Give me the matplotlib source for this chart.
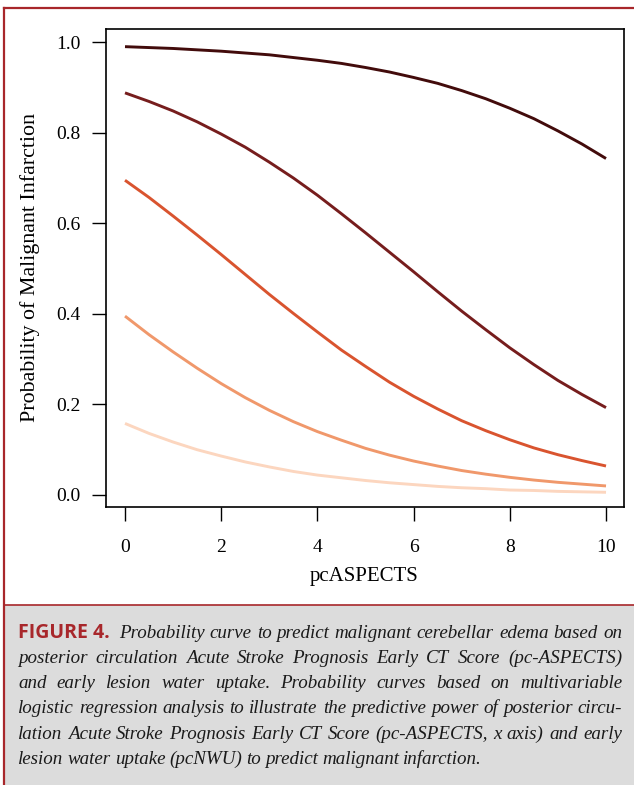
import matplotlib.pyplot as plt
from matplotlib.patches import Rectangle
from matplotlib.lines import Line2D

# pcASPECTS values along the x axis
pc_aspects = [0, 0.5, 1, 1.5, 2, 2.5, 3, 3.5, 4, 4.5, 5,
              5.5, 6, 6.5, 7, 7.5, 8, 8.5, 9, 9.5, 10]

# probability curves (darkest first)
curve_1 = [0.990, 0.988, 0.986, 0.983, 0.980, 0.976, 0.972, 0.966, 0.960, 0.953, 0.944,
           0.934, 0.922, 0.909, 0.893, 0.875, 0.854, 0.831, 0.804, 0.775, 0.743]
curve_2 = [0.888, 0.869, 0.848, 0.824, 0.797, 0.768, 0.735, 0.700, 0.662, 0.621, 0.579,
           0.536, 0.493, 0.449, 0.406, 0.365, 0.325, 0.288, 0.253, 0.222, 0.193]
curve_3 = [0.695, 0.657, 0.616, 0.574, 0.531, 0.487, 0.443, 0.401, 0.360, 0.320, 0.284,
           0.249, 0.218, 0.190, 0.164, 0.142, 0.122, 0.104, 0.089, 0.076, 0.064]
curve_4 = [0.395, 0.354, 0.316, 0.280, 0.246, 0.215, 0.187, 0.162, 0.140, 0.121, 0.103,
           0.088, 0.075, 0.064, 0.054, 0.046, 0.039, 0.033, 0.028, 0.024, 0.020]
curve_5 = [0.158, 0.136, 0.117, 0.100, 0.086, 0.073, 0.062, 0.052, 0.044, 0.038, 0.032,
           0.027, 0.023, 0.019, 0.016, 0.014, 0.011, 0.010, 0.008, 0.007, 0.006]

curves = [curve_1, curve_2, curve_3, curve_4, curve_5]
colors = ['#420b0b', '#761d1d', '#d9542f', '#f0986b', '#fcd6bf']

x_ticks = [0, 2, 4, 6, 8, 10]
y_ticks = [0.0, 0.2, 0.4, 0.6, 0.8, 1.0]
y_tick_labels = ['0.0', '0.2', '0.4', '0.6', '0.8', '1.0']

caption_head = 'FIGURE 4.'
caption_lines = [
    'Probability curve to predict malignant cerebellar edema based on',
    'posterior circulation Acute Stroke Prognosis Early CT Score (pc-ASPECTS)',
    'and early lesion water uptake. Probability curves based on multivariable',
    'logistic regression analysis to illustrate the predictive power of posterior circu-',
    'lation Acute Stroke Prognosis Early CT Score (pc-ASPECTS, x axis) and early',
    'lesion water uptake (pcNWU) to predict malignant infarction.',
]

W, H = 634, 785
red = '#a8272b'
serif = 'Liberation Serif'

fig = plt.figure(figsize=(W / 100, H / 100), dpi=100)

def fx(px):
    return px / W

def fy(py):
    return 1 - py / H

# caption box and red frame
fig.patches.append(Rectangle((fx(5), 0), 1, fy(605), transform=fig.transFigure,
                             facecolor='#dcdcdc', edgecolor='none', zorder=0))
fig.lines.append(Line2D([fx(5), 1], [fy(605), fy(605)], transform=fig.transFigure,
                        color=red, lw=1.2))
fig.lines.append(Line2D([fx(4), 1], [fy(8), fy(8)], transform=fig.transFigure,
                        color=red, lw=1.6))
fig.lines.append(Line2D([fx(4), fx(4)], [fy(8), 0], transform=fig.transFigure,
                        color=red, lw=1.6))

ax = fig.add_axes([fx(106), fy(507), (624 - 106) / W, (507 - 29) / H])
for ys, c in zip(curves, colors):
    ax.plot(pc_aspects, ys, color=c, lw=2.1, solid_capstyle='butt')

ax.set_xlim(-0.395, 10.374)
ax.set_ylim(-0.0265, 1.029)
ax.set_xticks(x_ticks)
ax.set_xticklabels([str(v) for v in x_ticks], fontfamily=serif, fontsize=14)
ax.set_yticks(y_ticks)
ax.set_yticklabels(y_tick_labels, fontfamily=serif, fontsize=14)
ax.tick_params(direction='out', length=10, width=1)
ax.tick_params(axis='x', pad=13)
ax.tick_params(axis='y', pad=8)
for s in ax.spines.values():
    s.set_linewidth(1.2)

fig.text(fx(364), fy(576), 'pcASPECTS', ha='center', va='center',
         fontfamily=serif, fontsize=15)
fig.text(fx(30), fy(268), 'Probability of Malignant Infarction', ha='center',
         va='center', rotation=90, fontfamily=serif, fontsize=15.8)

# caption with justified lines
fig.canvas.draw()
renderer = fig.canvas.get_renderer()

def put_line(text, x0, x1, y, justify):
    words = text.split(' ')
    objs = [fig.text(0, fy(y), w, fontfamily=serif, style='italic', fontsize=13.7,
                     va='baseline', color='#1a1a1a') for w in words]
    widths = [t.get_window_extent(renderer).width for t in objs]
    space = objs[0].get_fontsize() * 0.3
    if justify and len(words) > 1:
        space = (x1 - x0 - sum(widths)) / (len(words) - 1)
    x = x0
    for t, w in zip(objs, widths):
        t.set_x(fx(x))
        x += w + space

head = fig.text(fx(18), fy(638), caption_head, fontfamily='Open Sans',
                fontweight='bold', fontsize=14, color=red, va='baseline')
head_w = head.get_window_extent(renderer).width
baselines = [638, 663, 688, 713, 739, 764]
for i, (line, yb) in enumerate(zip(caption_lines, baselines)):
    x0 = 18 + head_w + 9 if i == 0 else 18
    put_line(line, x0, 622, yb, i < len(caption_lines) - 1)

fig.savefig('out.png', dpi=100)
